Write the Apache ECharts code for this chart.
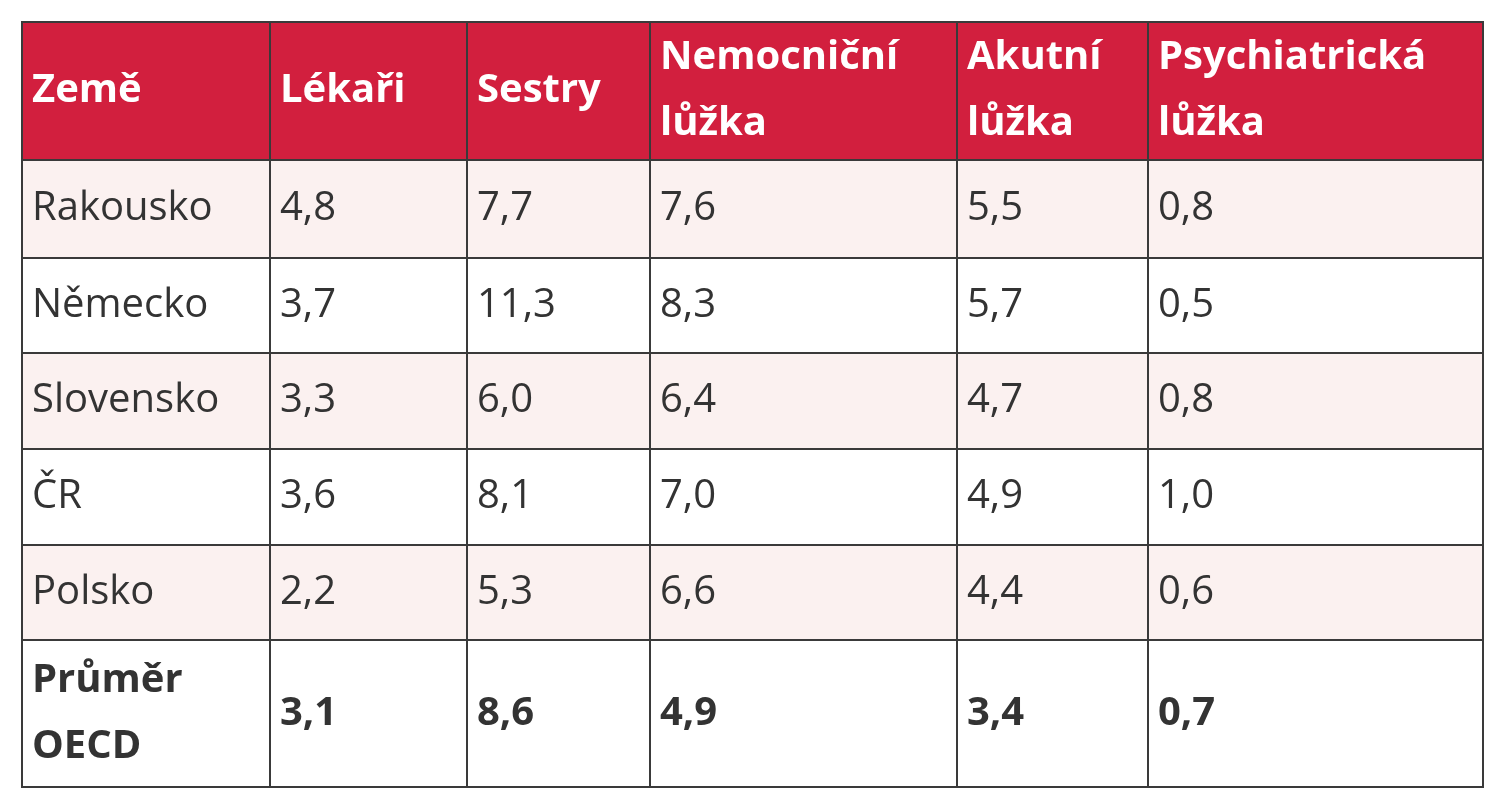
<!DOCTYPE html>
<html><head><meta charset="utf-8">
<script src="https://cdn.jsdelivr.net/npm/echarts@6/dist/echarts.min.js"></script>
<style>html,body{margin:0;padding:0;background:#fff}#c{width:1499px;height:800px}</style>
</head><body><div id="c"></div>
<script>
const headers = ['Země', 'Lékaři', 'Sestry', 'Nemocniční\nlůžka', 'Akutní\nlůžka', 'Psychiatrická\nlůžka'];
const countries = ['Rakousko', 'Německo', 'Slovensko', 'ČR', 'Polsko', 'Průměr\nOECD'];
const lekari = ['4,8', '3,7', '3,3', '3,6', '2,2', '3,1'];
const sestry = ['7,7', '11,3', '6,0', '8,1', '5,3', '8,6'];
const nemocnicniLuzka = ['7,6', '8,3', '6,4', '7,0', '6,6', '4,9'];
const akutniLuzka = ['5,5', '5,7', '4,7', '4,9', '4,4', '3,4'];
const psychLuzka = ['0,8', '0,5', '0,8', '1,0', '0,6', '0,7'];

// layout (separate from data)
const colEdges = [0, 248, 445, 628, 935, 1126, 1461];
const rowEdges = [0, 138, 236, 331, 427, 523, 618, 765];

const columns = [countries, lekari, sestry, nemocnicniLuzka, akutniLuzka, psychLuzka];
const cells = [];
for (let c = 0; c < headers.length; c++) cells.push([c, 0, headers[c]]);
for (let r = 0; r < countries.length; r++)
  for (let c = 0; c < columns.length; c++) cells.push([c, r + 1, columns[c][r]]);

const chart = echarts.init(document.getElementById('c'));
chart.setOption({
  animation: false,
  grid: { left: 22, right: 16, top: 22, bottom: 13 },
  xAxis: { type: 'value', min: 0, max: colEdges[colEdges.length - 1], show: false },
  yAxis: { type: 'value', min: 0, max: rowEdges[rowEdges.length - 1], inverse: true, show: false },
  series: [{
    type: 'custom',
    data: cells,
    renderItem: function (params, api) {
      const c = api.value(0), r = api.value(1);
      const text = cells[params.dataIndex][2];
      const p0 = api.coord([colEdges[c], rowEdges[r]]);
      const p1 = api.coord([colEdges[c + 1], rowEdges[r + 1]]);
      const header = r === 0, last = r === rowEdges.length - 2;
      const fill = header ? '#D21F3E' : (r % 2 === 1 ? '#FBF1F0' : '#ffffff');
      return {
        type: 'group',
        children: [{
          type: 'rect',
          shape: { x: p0[0], y: p0[1], width: p1[0] - p0[0], height: p1[1] - p0[1] },
          style: { fill: fill, stroke: '#3a3a3a', lineWidth: 2 }
        }, {
          type: 'text',
          x: p0[0] + 10, y: (p0[1] + p1[1]) / 2,
          style: {
            text: text, fill: header ? '#ffffff' : '#333333',
            font: (header || last ? 'bold ' : '') + '40px "Open Sans", Lato, sans-serif',
            lineHeight: 66, verticalAlign: 'middle', align: 'left'
          }
        }]
      };
    }
  }]
});
</script></body></html>
